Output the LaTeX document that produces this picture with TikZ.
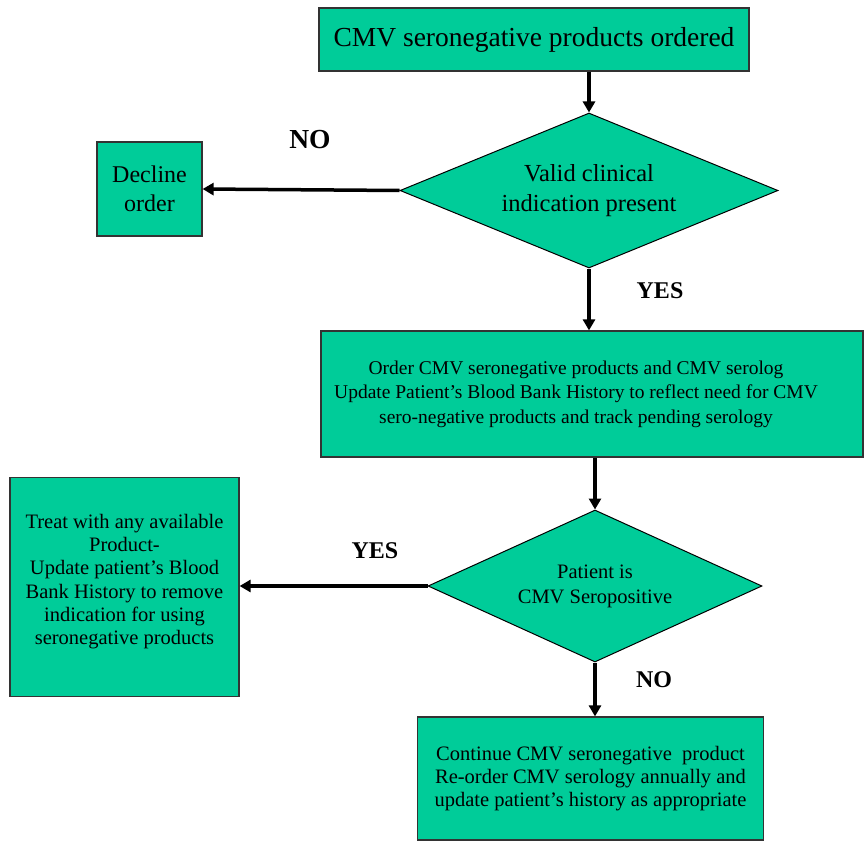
\documentclass[tikz,border=0pt]{standalone}
\usepackage{fontspec}
\setmainfont{Liberation Serif}
\usetikzlibrary{shapes.geometric,arrows.meta}
\definecolor{boxgreen}{HTML}{00CC99}
\definecolor{edge}{HTML}{333333}
\tikzset{
  box/.style={draw=edge, line width=1.2pt, fill=boxgreen, align=center, inner sep=0pt},
  decision/.style={diamond, draw=black, line width=1pt, fill=boxgreen, align=center, inner sep=0pt},
  flow/.style={line width=3.5pt, -{Triangle[length=11pt,width=12pt]}},
  lbl/.style={font=\bfseries\fontsize{24}{28}\selectfont}
}
\newcommand{\rpad}{\rule{32pt}{0pt}}
\begin{document}
\begin{tikzpicture}[x=1pt,y=-1pt]
\useasboundingbox (0,0) rectangle (864,840);
\node[box, minimum width=430pt, minimum height=63pt, font=\fontsize{27.5}{32}\selectfont] (top) at (534,39.5) {CMV seronegative products ordered};
\node[decision, aspect=2.44, minimum width=378pt, minimum height=155pt, font=\fontsize{24.5}{30}\selectfont] (d1) at (589,190.5) {Valid clinical\\indication present};
\node[box, minimum width=105pt, minimum height=94pt, font=\fontsize{24}{28.5}\selectfont] (decline) at (149.5,189) {Decline\\order};
\node[box, minimum width=542pt, minimum height=126pt, font=\fontsize{19.5}{24.5}\selectfont] (box2) at (592,394) {Order CMV seronegative products and CMV serolog\rpad\\Update Patient’s Blood Bank History to reflect need for CMV\rpad\\sero-negative products and track pending serology\rpad};
\node[decision, aspect=2.2, minimum width=334pt, minimum height=152pt, font=\fontsize{20.5}{25}\selectfont] (d2) at (595,586) {Patient is\\CMV Seropositive};
\node[box, minimum width=229pt, minimum height=219pt, font=\fontsize{20.5}{23.3}\selectfont] (treat) at (124.5,587) {Treat with any available\\Product-\\Update patient’s Blood\\Bank History to remove\\indication for using\\seronegative products\\[-8pt]};
\node[box, minimum width=346pt, minimum height=123pt, font=\fontsize{20.5}{23.3}\selectfont] (box3) at (590.5,778.5) {Continue CMV seronegative\ \ product\\Re-order CMV serology annually and\\update patient’s history as appropriate};
\draw[flow] (d1.north |- top.south) -- (d1.north);
\draw[flow] (d1.west) -- (decline.east);
\draw[flow] (d1.south) -- (d1.south |- box2.north);
\draw[flow] (d2.north |- box2.south) -- (d2.north);
\draw[flow] (d2.west) -- (d2.west -| treat.east);
\draw[flow] (d2.south) -- (d2.south |- box3.north);
\node[lbl, font=\bfseries\fontsize{27.5}{32}\selectfont] (no1) at (310,140) {NO};
\node[lbl] (yes1) at (660,291) {YES};
\node[lbl] (yes2) at (375,551) {YES};
\node[lbl] (no2) at (654,680) {NO};
\end{tikzpicture}
\end{document}
